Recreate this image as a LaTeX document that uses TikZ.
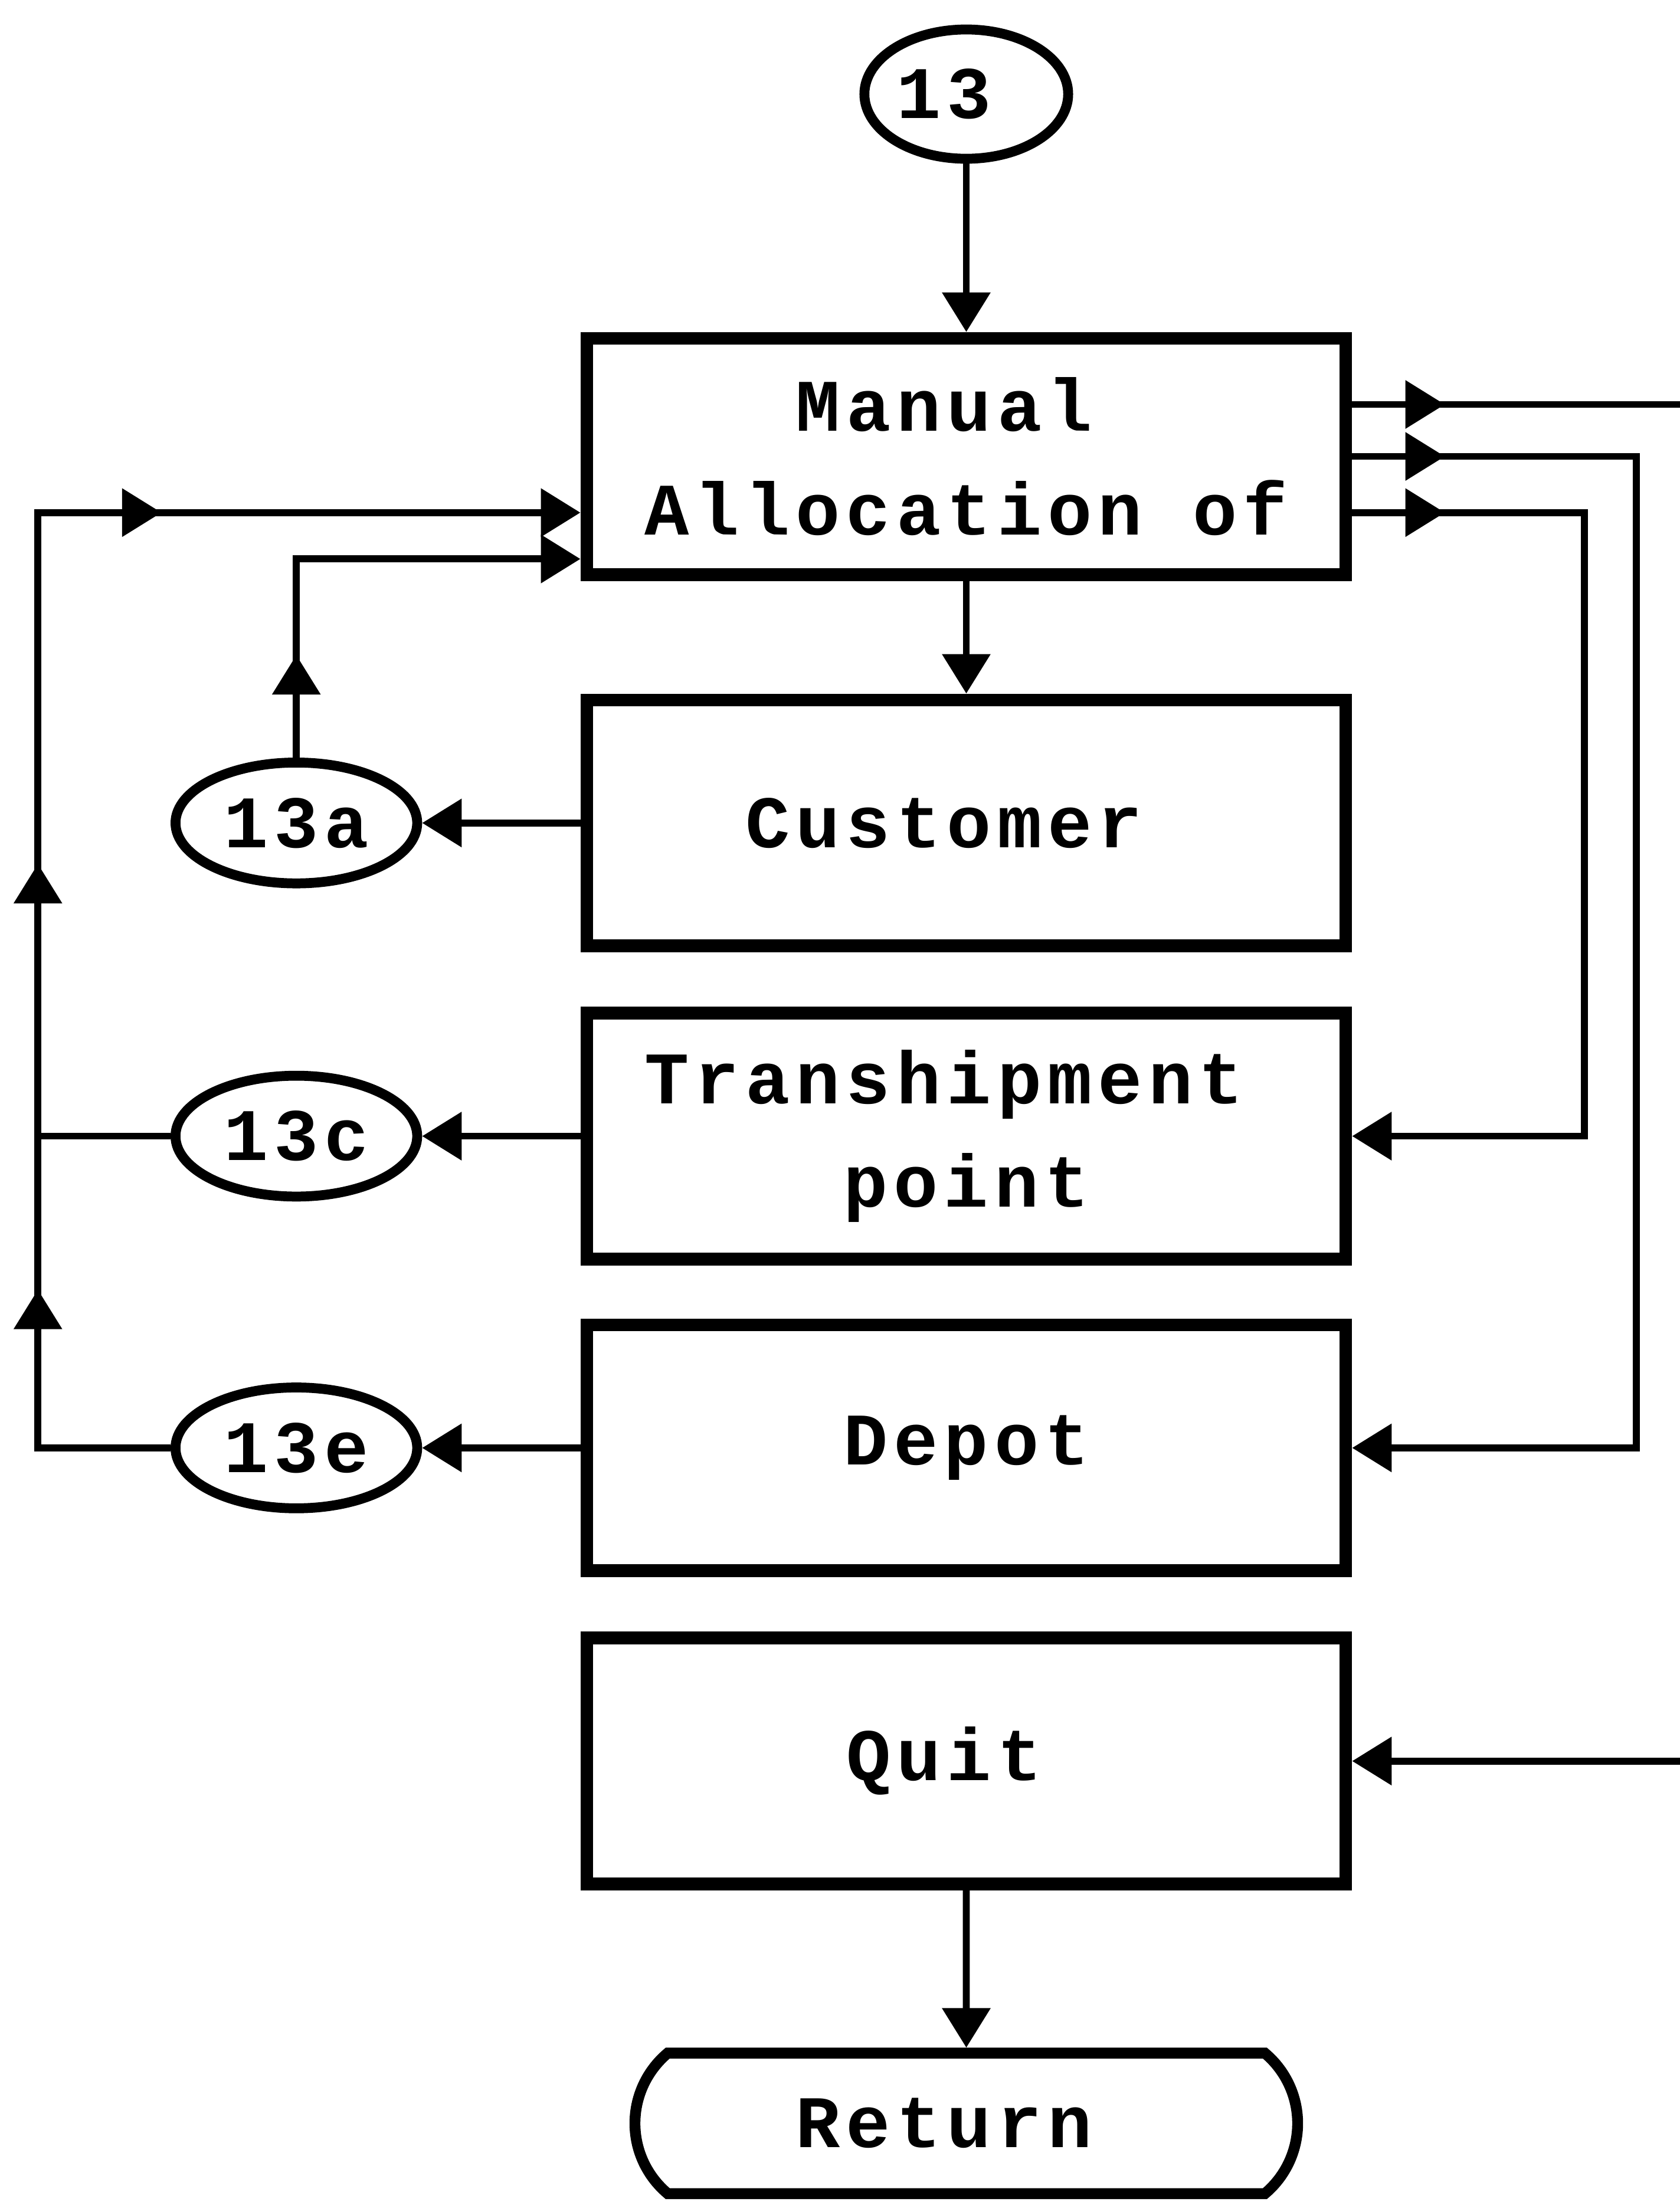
\documentclass[tikz,border=0pt]{standalone}
\usepackage{fontspec}
\newfontfamily\dotfont{Liberation Mono}[LetterSpace=8]
\usetikzlibrary{arrows.meta,shapes,positioning,calc,decorations.markings}

% labels of even length sit half a character left of the centre
\newcommand{\halfpad}{\hphantom{0}}

\tikzset{
  menubox/.style={draw, line width=2.6pt, minimum width=5.4cm, minimum height=1.75cm,
                  align=center, font=\dotfont\bfseries\fontsize{15pt}{21pt}\selectfont},
  oval/.style={draw, ellipse, line width=2pt, inner sep=0pt, minimum width=1.72cm,
               minimum height=0.86cm, font=\dotfont\bfseries\fontsize{15pt}{21pt}\selectfont},
  endcap/.style={draw, rounded rectangle, rounded rectangle arc length=100, line width=2.2pt,
                 minimum width=4.95cm, minimum height=1.0cm,
                 font=\dotfont\bfseries\fontsize{15pt}{21pt}\selectfont},
  plainlink/.style={line width=1.4pt},
  link/.style={line width=1.4pt, -{Triangle[length=8pt,width=9.5pt]}},
  tipat/.style={postaction={decorate, decoration={markings,
                mark=at position #1 with {\arrow{Triangle[length=8pt,width=9.5pt]}}}}}
}

\begin{document}
\begin{tikzpicture}[x=0.01cm, y=-0.01cm]
  \useasboundingbox (0,0) rectangle (1196,1568);

  % main column
  \node[oval, minimum width=1.45cm, minimum height=0.92cm] (n13) at (688,67) {13\halfpad};
  \node[menubox, minimum height=1.68cm] (man) at (688,325) {Manual\halfpad\\Allocation of};
  \node[menubox] (cust) at (688,586) {Customer\halfpad};
  \node[menubox] (tran) at (688,809) {Transhipment\halfpad\\point};
  \node[menubox] (depot) at (688,1031) {Depot};
  \node[menubox] (quit) at (688,1254) {Quit\halfpad};
  \node[endcap] (ret) at (688,1512) {Return\halfpad};

  % sub menus
  \node[oval] (n13a) at (211,586) {13a};
  \node[oval] (n13c) at (211,809) {13c};
  \node[oval] (n13e) at (211,1031) {13e};

  \coordinate (offtop) at (1205,288);
  \coordinate (offbot) at (1205,1254);

  \draw[link] (n13) -- (man);
  \draw[link] (man) -- (cust);
  \draw[link] (quit) -- (ret);

  \draw[link] (cust.west) -- (n13a.east);
  \draw[link] (tran.west) -- (n13c.east);
  \draw[link] (depot.west) -- (n13e.east);

  % back to the menu
  \draw[link, tipat=0.73cm] (n13a.north) -- (211,398) -- (man.west |- 0,398);
  \draw[plainlink] (n13c.west) -- (27,809);
  \draw[link, tipat=2.07cm, tipat=5.1cm, tipat=8.48cm]
    (n13e.west) -- (27,1031) -- (27,365) -- (man.west |- 0,365);

  % right hand side
  \draw[plainlink, tipat=0.66cm] (man.east |- 0,288) -- (offtop);
  \draw[link, tipat=0.66cm] (man.east |- 0,325) -- (1165,325) |- (depot.east);
  \draw[link, tipat=0.66cm] (man.east |- 0,365) -- (1128,365) |- (tran.east);
  \draw[link] (offbot) -- (quit.east);
\end{tikzpicture}
\end{document}
